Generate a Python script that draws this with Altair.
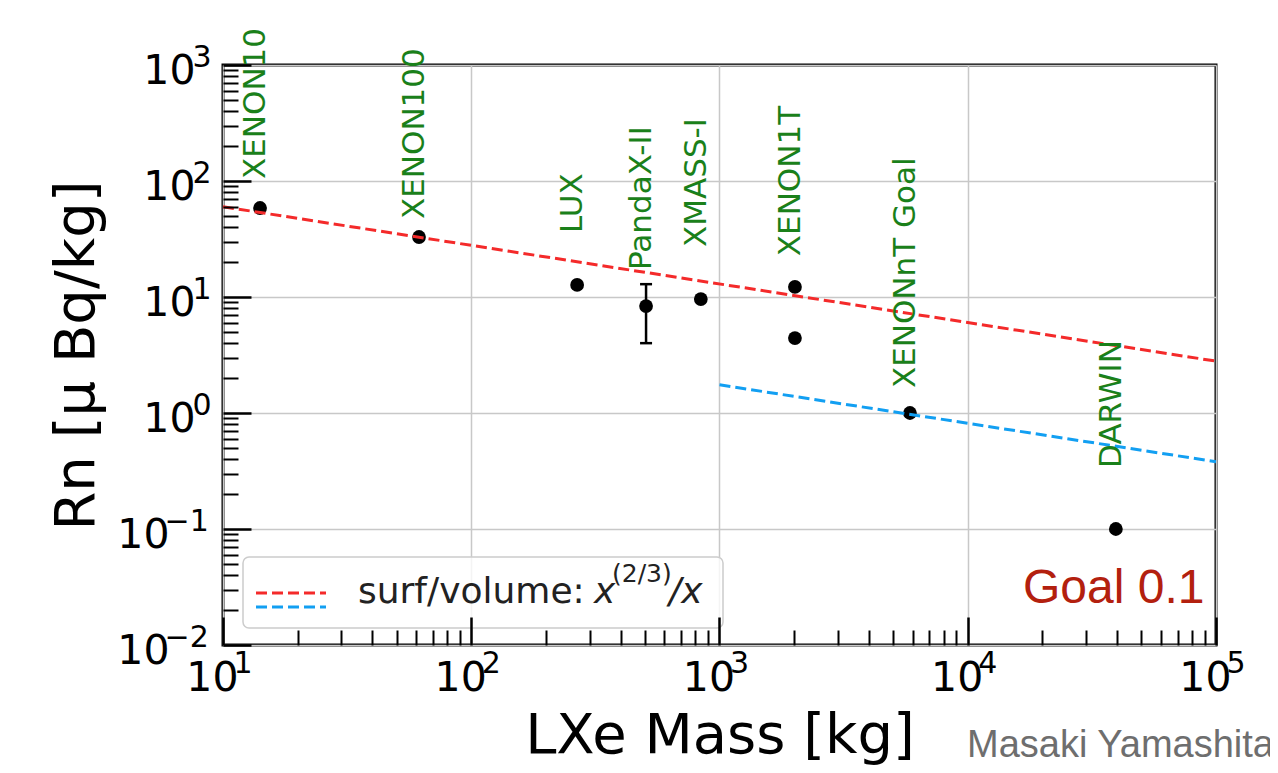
import altair as alt
import pandas as pd

# ---------------- data ----------------
experiments = ["XENON10", "XENON100", "LUX", "PandaX-II", "XMASS-I",
               "XENON1T", "XENONnT Goal", "DARWIN"]
label_mass = [14.1, 61.6, 267, 506, 841, 2013, 5850, 39500]
label_rn = [104, 47, 35.6, 17.1, 27, 22.5, 1.64, 0.336]

point_mass = [14.1, 61.6, 267, 506, 841, 2013, 2013, 5850, 39500]
point_rn = [58.5, 32.9, 12.7, 8.36, 9.6, 12.2, 4.43, 1.0, 0.1]

err_mass = [506]
err_lo = [4.0]
err_hi = [12.9]

red_mass = [10, 100000]
red_rn = [60, 2.8]
blue_mass = [1000, 100000]
blue_rn = [1.75, 0.38]

x_major = [10, 100, 1000, 10000, 100000]
y_major = [0.01, 0.1, 1, 10, 100, 1000]
x_minor = [m * 10 ** e for e in range(1, 5) for m in range(2, 10)]
y_minor = [round(m * 10.0 ** e, 4) for e in range(-2, 3) for m in range(2, 10)]

# ---------------- style ----------------
FONT = "DejaVu Sans"
SANS = "Liberation Sans"
RED = "#f42a2a"
BLUE = "#129ff2"
GREEN = "#1a801a"
W, H = 993, 580

df_pts = pd.DataFrame({"mass": point_mass, "rn": point_rn})
df_lab = pd.DataFrame({"mass": label_mass, "rn": label_rn, "name": experiments})
df_err = pd.DataFrame({"mass": err_mass, "lo": err_lo, "hi": err_hi})
df_red = pd.DataFrame({"mass": red_mass, "rn": red_rn})
df_blue = pd.DataFrame({"mass": blue_mass, "rn": blue_rn})
one = pd.DataFrame({"k": [0]})

xs = alt.Scale(type="log", domain=[10, 100000], nice=False)
ys = alt.Scale(type="log", domain=[0.01, 1000], nice=False)

EXP = "format(round(log(datum.value)/LN10), 'd')"

ax_x_main = alt.Axis(orient="bottom", values=x_major, offset=-28, tickSize=28,
                     tickWidth=2.5, tickColor="black", domain=False, grid=False,
                     labelExpr="'10'", labelFont=FONT, labelFontSize=41,
                     labelColor="black", labelAlign="right",
                     labelBaseline="alphabetic", labelOffset=15, labelPadding=45,
                     labelFlush=False, labelOverlap=False, title=None, zindex=2)
ax_y_main = alt.Axis(orient="left", values=y_major, offset=-28, tickSize=28,
                     tickWidth=2.5, tickColor="black", domain=False, grid=False,
                     labelExpr="'10'", labelFont=FONT, labelFontSize=41,
                     labelColor="black", labelAlign="right",
                     labelBaseline="alphabetic", labelOffset=18,
                     labelPadding={"condition": {"test": "datum.value < 1", "value": 54},
                                   "value": 28},
                     labelFlush=False, labelOverlap=False, title=None, zindex=2)

ax_x_sup = alt.Axis(orient="bottom", values=x_major, ticks=False, tickSize=0,
                    domain=False, grid=True, gridColor="#c8c8c8", gridWidth=1.5,
                    labelExpr=EXP, labelFont=FONT, labelFontSize=30,
                    labelColor="black", labelAlign="left",
                    labelBaseline="alphabetic", labelOffset=10, labelPadding=27,
                    labelFlush=False, labelOverlap=False,
                    title="LXe Mass [kg]", titleFont=FONT, titleFontSize=56,
                    titleFontWeight="normal", titleColor="black",
                    titleX=W / 2, titleY=107, titleBaseline="alphabetic",
                    titleAlign="center", titleAngle=0)
ax_y_sup = alt.Axis(orient="left", values=y_major, ticks=False, tickSize=0,
                    domain=False, grid=True, gridColor="#c8c8c8", gridWidth=1.5,
                    labelExpr=EXP, labelFont=FONT, labelFontSize=30,
                    labelColor="black", labelAlign="left",
                    labelBaseline="alphabetic", labelOffset=1,
                    labelPadding={"condition": {"test": "datum.value < 1", "value": 59},
                                  "value": 31},
                    labelFlush=False, labelOverlap=False,
                    title="Rn [μ Bq/kg]", titleFont=FONT, titleFontSize=56,
                    titleFontWeight="normal", titleColor="black",
                    titleX=-130, titleY=H / 2, titleBaseline="alphabetic",
                    titleAlign="center", titleAngle=270)

ax_x_minor = alt.Axis(orient="bottom", values=x_minor, offset=-15, tickSize=15,
                      tickWidth=2, tickColor="black", labels=False, domain=False,
                      grid=False, title=None, zindex=2)
ax_y_minor = alt.Axis(orient="left", values=y_minor, offset=-15, tickSize=15,
                      tickWidth=2, tickColor="black", labels=False, domain=False,
                      grid=False, title=None, zindex=2)

# ---------------- layers ----------------
pts = alt.Chart(df_pts).mark_circle(size=190, color="black", opacity=1).encode(
    x=alt.X("mass:Q", scale=xs, axis=ax_x_sup),
    y=alt.Y("rn:Q", scale=ys, axis=ax_y_sup),
)
err = alt.Chart(df_err).mark_rule(color="black", strokeWidth=2.5).encode(
    x=alt.X("mass:Q", scale=xs, axis=None),
    y=alt.Y("lo:Q", scale=ys, axis=None),
    y2="hi:Q",
)
cap_lo = alt.Chart(df_err).mark_tick(orient="horizontal", color="black",
                                      size=12, thickness=2.5, opacity=1).encode(
    x=alt.X("mass:Q", scale=xs, axis=None),
    y=alt.Y("lo:Q", scale=ys, axis=None),
)
cap_hi = alt.Chart(df_err).mark_tick(orient="horizontal", color="black",
                                      size=12, thickness=2.5, opacity=1).encode(
    x=alt.X("mass:Q", scale=xs, axis=None),
    y=alt.Y("hi:Q", scale=ys, axis=None),
)
red = alt.Chart(df_red).mark_line(color=RED, strokeWidth=3, strokeDash=[11, 5]).encode(
    x=alt.X("mass:Q", scale=xs, axis=ax_x_main),
    y=alt.Y("rn:Q", scale=ys, axis=ax_y_main),
)
blue = alt.Chart(df_blue).mark_line(color=BLUE, strokeWidth=3, strokeDash=[11, 5]).encode(
    x=alt.X("mass:Q", scale=xs, axis=ax_x_minor),
    y=alt.Y("rn:Q", scale=ys, axis=ax_y_minor),
)
labels = alt.Chart(df_lab).mark_text(angle=270, align="left", baseline="middle",
                                     dy=-4, font=FONT, fontSize=31,
                                     color=GREEN).encode(
    x=alt.X("mass:Q", scale=xs, axis=None),
    y=alt.Y("rn:Q", scale=ys, axis=None),
    text="name:N",
)


def deco_text(txt, px, py, size, color, font=FONT, style="normal"):
    return alt.Chart(one).mark_text(text=txt, font=font, fontSize=size,
                                    fontStyle=style, color=color, align="left",
                                    baseline="alphabetic").encode(
        x=alt.value(px), y=alt.value(py))


legend_box = alt.Chart(one).mark_rect(fill="white", fillOpacity=0.8,
                                      stroke="#cccccc", strokeWidth=1.5,
                                      cornerRadius=6).encode(
    x=alt.value(20), x2=alt.value(500), y=alt.value(492), y2=alt.value(563))
leg_red = alt.Chart(one).mark_rule(color=RED, strokeWidth=3, strokeDash=[11, 5]).encode(
    x=alt.value(33), x2=alt.value(103), y=alt.value(528))
leg_blue = alt.Chart(one).mark_rule(color=BLUE, strokeWidth=3, strokeDash=[11, 5]).encode(
    x=alt.value(33), x2=alt.value(103), y=alt.value(542))

leg_t1 = deco_text("surf/volume:", 135, 538, 36, "#222222")
leg_t2 = deco_text("x", 371, 538, 36, "#222222", style="italic")
leg_t3 = deco_text("(2/3)", 389, 517, 25, "#222222")
leg_t4 = deco_text("/x", 446, 538, 36, "#222222", style="italic")

goal = deco_text("Goal 0.1", 800, 538, 48, "#b3200e", font=SANS)
author = deco_text("Masaki Yamashita", 744, 692, 38, "#6e6e6e", font=SANS)

chart = alt.layer(
    pts, err, cap_lo, cap_hi, red, blue, labels,
    legend_box, leg_red, leg_blue, leg_t1, leg_t2, leg_t3, leg_t4,
    goal, author,
).resolve_axis(
    x="independent", y="independent"
).properties(
    width=W, height=H,
    padding={"left": 215, "top": 57, "right": 54, "bottom": 120},
    autosize=alt.AutoSizeParams(type="none"),
).configure(
    font=FONT
).configure_view(
    stroke="black", strokeWidth=3
)

chart.save("out.html", embed_options={"renderer": "svg", "actions": False})
